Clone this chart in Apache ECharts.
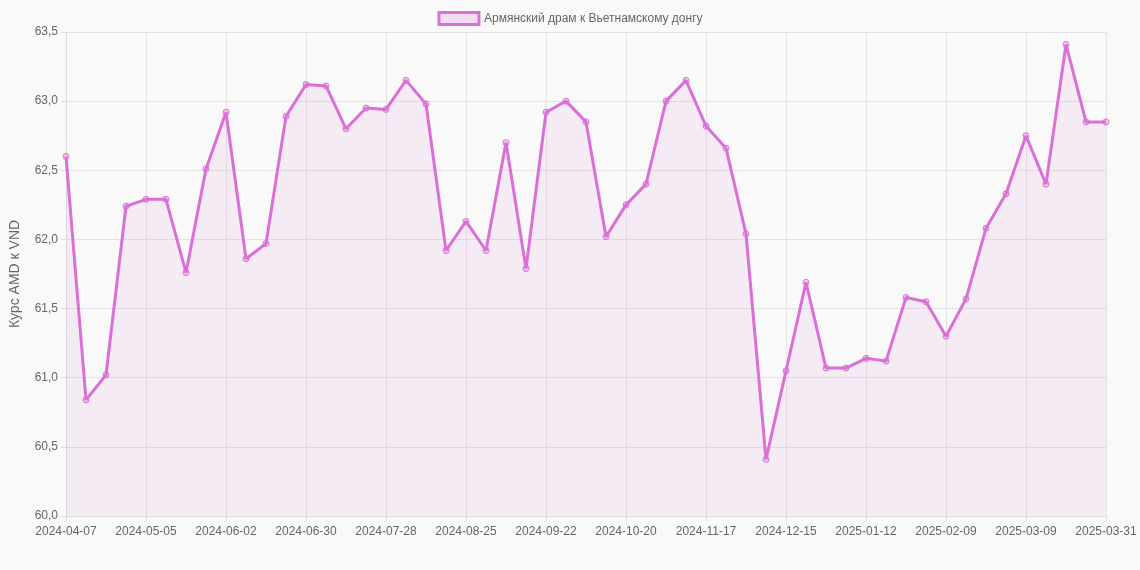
<!DOCTYPE html>
<html>
<head>
<meta charset="utf-8">
<script src="https://cdn.jsdelivr.net/npm/echarts@6/dist/echarts.min.js"></script>
<style>
  html, body { margin: 0; padding: 0; background: #f9f9f9; }
  #chart { width: 1140px; height: 570px; }
</style>
</head>
<body>
<div id="chart"></div>
<script>
const seriesName = 'Армянский драм к Вьетнамскому донгу'
const yAxisName = 'Курс AMD к VND'

const dates = [
  '2024-04-07', '2024-04-14', '2024-04-21', '2024-04-28', '2024-05-05', '2024-05-12', '2024-05-19',
  '2024-05-26', '2024-06-02', '2024-06-09', '2024-06-16', '2024-06-23', '2024-06-30', '2024-07-07',
  '2024-07-14', '2024-07-21', '2024-07-28', '2024-08-04', '2024-08-11', '2024-08-18', '2024-08-25',
  '2024-09-01', '2024-09-08', '2024-09-15', '2024-09-22', '2024-09-29', '2024-10-06', '2024-10-13',
  '2024-10-20', '2024-10-27', '2024-11-03', '2024-11-10', '2024-11-17', '2024-11-24', '2024-12-01',
  '2024-12-08', '2024-12-15', '2024-12-22', '2024-12-29', '2025-01-05', '2025-01-12', '2025-01-19',
  '2025-01-26', '2025-02-02', '2025-02-09', '2025-02-16', '2025-02-23', '2025-03-02', '2025-03-09',
  '2025-03-16', '2025-03-23', '2025-03-30', '2025-03-31'
]

const rates = [
  62.60, 60.84, 61.02, 62.24, 62.29, 62.29, 61.76, 62.51, 62.92, 61.86, 61.97, 62.89, 63.12, 63.11,
  62.80, 62.95, 62.94, 63.15, 62.98, 61.92, 62.13, 61.92, 62.70, 61.79, 62.92, 63.00, 62.85, 62.02,
  62.25, 62.40, 63.00, 63.15, 62.82, 62.66, 62.04, 60.41, 61.05, 61.69, 61.07, 61.07, 61.14, 61.12,
  61.58, 61.55, 61.30, 61.57, 62.08, 62.33, 62.75, 62.40, 63.41, 62.85, 62.85
]

const chart = echarts.init(document.getElementById('chart'))
const lastIdx = dates.length - 1
const showTick = (i) => i % 4 === 0 || i === lastIdx

chart.setOption({
  backgroundColor: '#f9f9f9',
  animation: false,
  textStyle: { fontFamily: 'Liberation Sans, Arial, sans-serif' },
  legend: {
    top: 6,
    itemWidth: 40,
    itemHeight: 12,
    icon: 'rect',
    textStyle: { color: '#666', fontSize: 12 },
    data: [{ name: seriesName, itemStyle: { color: 'rgba(218,112,214,0.2)', borderColor: '#da70d6', borderWidth: 3 } }]
  },
  grid: { left: 62, right: 34, top: 32, bottom: 54, containLabel: false },
  xAxis: {
    type: 'category',
    data: dates,
    boundaryGap: false,
    axisLine: { lineStyle: { color: '#ddd' } },
    axisTick: { show: true, interval: showTick, lineStyle: { color: '#ddd' } },
    axisLabel: { interval: showTick, color: '#666', fontSize: 12, margin: 10 },
    splitLine: { show: true, interval: showTick, lineStyle: { color: '#e4e4e4' } }
  },
  yAxis: {
    type: 'value',
    min: 60,
    max: 63.5,
    interval: 0.5,
    name: yAxisName,
    nameLocation: 'middle',
    nameGap: 44,
    nameTextStyle: { color: '#666', fontSize: 14 },
    axisLine: { show: true, lineStyle: { color: '#ddd' } },
    axisTick: { show: true, lineStyle: { color: '#ddd' } },
    axisLabel: { color: '#666', fontSize: 12, formatter: (v) => v.toFixed(1).replace('.', ',') },
    splitLine: { lineStyle: { color: '#e4e4e4' } }
  },
  series: [{
    name: seriesName,
    type: 'line',
    data: rates,
    symbol: 'circle',
    symbolSize: 6,
    lineStyle: { color: '#da70d6', width: 3 },
    itemStyle: { color: 'rgba(218,112,214,0.3)', borderColor: '#da70d6', borderWidth: 1 },
    areaStyle: { color: 'rgba(218,112,214,0.14)' }
  }]
})
</script>
</body>
</html>
